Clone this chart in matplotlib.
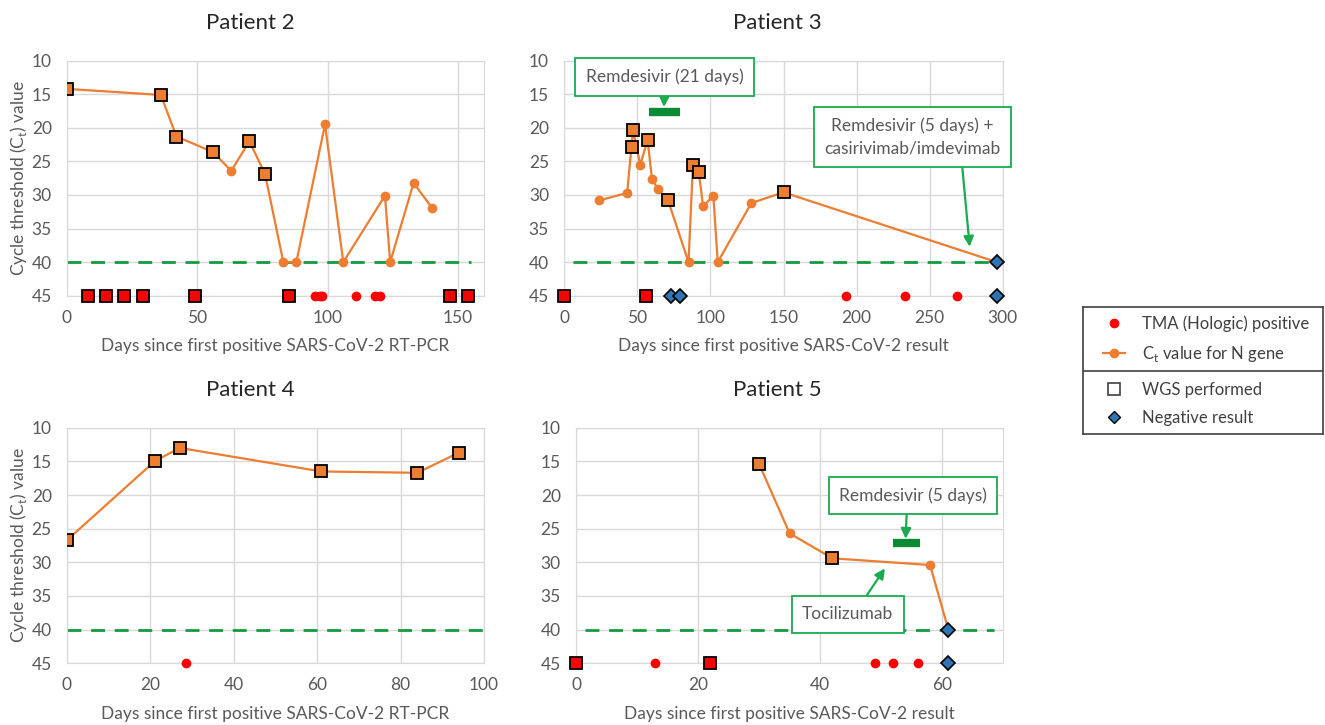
"""Ct value timelines for four patients, 2x2 panels plus a shared legend box."""

import matplotlib

matplotlib.use("Agg")
import matplotlib.pyplot as plt
from matplotlib.lines import Line2D

# ---------- Data ----------

# Patient 2
P2_DAYS = [0, 36, 42, 56, 63, 70, 76, 83, 88, 99, 106, 122, 124, 133, 140]
P2_CT = [14.2, 15.1, 21.3, 23.6, 26.4, 22.0, 26.9, 40, 40, 19.5, 40, 30.1, 40, 28.2, 31.9]
P2_MARK = ["s", "s", "s", "s", "o", "s", "s", "o", "o", "o", "o", "o", "o", "o", "o"]
P2_TMA_WGS = [8, 15, 22, 29, 49, 85, 147, 154]
P2_TMA = [95, 97, 98, 111, 118, 120]
P2_NEG = []

# Patient 3
P3_DAYS = [24, 43, 46, 47, 52, 57, 60, 64, 71, 85, 88, 92, 95, 102, 105, 128, 150, 296]
P3_CT = [30.8, 29.7, 22.8, 20.3, 25.5, 21.8, 27.6, 29.1, 30.8, 40, 25.6, 26.6, 31.7,
         30.1, 40, 31.2, 29.6, 40]
P3_MARK = ["o", "o", "s", "s", "o", "s", "o", "o", "s", "o", "s", "s", "o", "o", "o",
           "o", "s", "D"]
P3_TMA_WGS = [0, 56]
P3_TMA = [193, 233, 269]
P3_NEG = [73, 79, 296]

# Patient 4
P4_DAYS = [0, 21, 27, 61, 84, 94]
P4_CT = [26.7, 15.0, 13.0, 16.5, 16.7, 13.7]
P4_MARK = ["s", "s", "s", "s", "s", "s"]
P4_TMA_WGS = []
P4_TMA = [28.5]
P4_NEG = []

# Patient 5
P5_DAYS = [30, 35, 42, 58, 61]
P5_CT = [15.4, 25.7, 29.4, 30.4, 40]
P5_MARK = ["s", "o", "s", "o", "D"]
P5_TMA_WGS = [0, 22]
P5_TMA = [13, 49, 52, 56]
P5_NEG = [61]

X_MAX = [160, 300, 100, 70]
X_STEP = [50, 50, 20, 20]
CUTOFF_SPAN = [(0, 155), (6, 296), (0, 101), (1.5, 68.5)]
TITLES = ["Patient 2", "Patient 3", "Patient 4", "Patient 5"]
XLABELS = [
    "Days since first positive SARS-CoV-2 RT-PCR",
    "Days since first positive SARS-CoV-2 result",
    "Days since first positive SARS-CoV-2 RT-PCR",
    "Days since first positive SARS-CoV-2 result",
]

# Treatment bars: (start day, end day, Ct level)
P3_REMDESIVIR_21 = (58, 79, 17.6)
P5_REMDESIVIR_5 = (52, 56.3, 27.2)

# ---------- Style ----------

ORANGE = "#ED7D31"
RED = "#FF0000"
BLUE = "#2E75B6"
GREEN = "#139B3E"
BOX_GREEN = "#1AAB4F"
BAR_GREEN = "#0A8A35"
GRID = "#D9D9D9"
TXT = "#595959"

plt.rcParams.update({
    "font.family": ["Lato", "DejaVu Sans"],
    "font.size": 12,
    "axes.edgecolor": GRID,
    "xtick.color": TXT,
    "ytick.color": TXT,
})

W, H = 1325, 725
fig = plt.figure(figsize=(W / 100, H / 100), dpi=100)


def px_axes(left, top, right, bottom):
    return fig.add_axes([left / W, 1 - bottom / H, (right - left) / W, (bottom - top) / H])


axes = [
    px_axes(67, 60.7, 484, 295.7),
    px_axes(564.3, 60.7, 1002.7, 295.7),
    px_axes(67, 427.7, 484, 663.3),
    px_axes(576, 427.7, 1003.3, 663.3),
]
title_x = [0.44, 0.485, 0.44, 0.47]

patients = [
    (P2_DAYS, P2_CT, P2_MARK, P2_TMA_WGS, P2_TMA, P2_NEG),
    (P3_DAYS, P3_CT, P3_MARK, P3_TMA_WGS, P3_TMA, P3_NEG),
    (P4_DAYS, P4_CT, P4_MARK, P4_TMA_WGS, P4_TMA, P4_NEG),
    (P5_DAYS, P5_CT, P5_MARK, P5_TMA_WGS, P5_TMA, P5_NEG),
]

for i, (ax, (days, ct, marks, tma_wgs, tma, neg)) in enumerate(zip(axes, patients)):
    ax.set_xlim(0, X_MAX[i])
    ax.set_ylim(45, 10)
    ax.set_xticks(range(0, X_MAX[i] + 1, X_STEP[i]))
    ax.set_yticks(range(10, 46, 5))
    ax.grid(True, color=GRID, linewidth=1)
    ax.set_axisbelow(True)
    ax.tick_params(length=0, labelsize=12.5)
    ax.tick_params(axis="y", pad=11)
    ax.tick_params(axis="x", pad=10)

    ax.hlines(40, *CUTOFF_SPAN[i], colors=GREEN, linestyles=(0, (5, 3.5)), linewidth=2, zorder=2)

    ax.plot(days, ct, color=ORANGE, linewidth=1.6, zorder=3)
    for d, c, m in zip(days, ct, marks):
        if m == "o":
            ax.plot(d, c, "o", color=ORANGE, ms=6, zorder=4)
        elif m == "s":
            ax.plot(d, c, "s", mfc=ORANGE, mec="black", mew=1.3, ms=9, zorder=5)
        else:
            ax.plot(d, c, "D", mfc=BLUE, mec="black", mew=1.2, ms=7, zorder=5, clip_on=False)

    ax.plot(tma, [45] * len(tma), "o", color=RED, ms=6, zorder=4, clip_on=False)
    ax.plot(tma_wgs, [45] * len(tma_wgs), "s", mfc=RED, mec="black", mew=1.3, ms=9,
            zorder=5, clip_on=False)
    ax.plot(neg, [45] * len(neg), "D", mfc=BLUE, mec="black", mew=1.2, ms=7,
            zorder=5, clip_on=False)

    ax.set_title(TITLES[i], x=title_x[i], pad=23, fontsize=16, color="#262626")
    ax.set_xlabel(XLABELS[i], color=TXT, fontsize=12.5, labelpad=9)
    if i in (0, 2):
        ax.set_ylabel(r"Cycle threshold (C$_\mathregular{t}$) value", color=TXT, fontsize=12.5)
        ax.yaxis.set_label_coords(-0.092, 0.5)

box = dict(boxstyle="square,pad=0.6", fc="white", ec=BOX_GREEN, lw=1.3)
arrow = dict(arrowstyle="-|>", color=BOX_GREEN, lw=1.6, mutation_scale=15, shrinkA=0, shrinkB=0)

# Patient 3 treatments
ax = axes[1]
s, e, y = P3_REMDESIVIR_21
ax.hlines(y, s, e, colors=BAR_GREEN, linewidth=6, zorder=6)
ax.annotate("Remdesivir (21 days)", xy=(68.2, 16.9), xytext=(68.7, 12.4),
            ha="center", va="center", color=TXT, fontsize=12.5, bbox=box,
            arrowprops=dict(arrow, relpos=(0.5, 0)), annotation_clip=False, zorder=7)
ax.annotate("Remdesivir (5 days) +\ncasirivimab/imdevimab", xy=(277.4, 37.7),
            xytext=(238.4, 21.4), ha="center", va="center", color=TXT, fontsize=12.5,
            linespacing=1.5, bbox=box, arrowprops=dict(arrow, relpos=(0.776, 0)),
            annotation_clip=False, zorder=7)

# Patient 5 treatments
ax = axes[3]
s, e, y = P5_REMDESIVIR_5
ax.hlines(y, s, e, colors=BAR_GREEN, linewidth=6, zorder=6)
ax.annotate("Remdesivir (5 days)", xy=(54, 26.5), xytext=(55.2, 20.1),
            ha="center", va="center", color=TXT, fontsize=12.5, bbox=box,
            arrowprops=dict(arrow, relpos=(0.46, 0)), annotation_clip=False, zorder=7)
ax.annotate("Tocilizumab", xy=(50.6, 30.9), xytext=(44.5, 37.7),
            ha="center", va="center", color=TXT, fontsize=12.5, bbox=box,
            arrowprops=dict(arrow, relpos=(0.63, 1)), annotation_clip=False, zorder=7)

# ---------- Legend box ----------
lax = px_axes(1083, 307, 1323, 434)
lax.set_xticks([])
lax.set_yticks([])
for sp in lax.spines.values():
    sp.set_color("#404040")
    sp.set_linewidth(1.2)
lax.axhline(0.5, color="#404040", linewidth=1.2)

top_handles = [
    Line2D([], [], marker="o", color=RED, ls="none", ms=6),
    Line2D([], [], marker="o", color=ORANGE, lw=1.6, ms=6),
]
top_labels = ["TMA (Hologic) positive", r"C$_\mathregular{t}$ value for N gene"]
bot_handles = [
    Line2D([], [], marker="s", mfc="white", mec="#404040", mew=1.2, ls="none", ms=8),
    Line2D([], [], marker="D", mfc=BLUE, mec="black", mew=1.0, ls="none", ms=6),
]
bot_labels = ["WGS performed", "Negative result"]

common = dict(frameon=False, loc="center left", borderpad=0, borderaxespad=0,
              handlelength=1.35, handletextpad=1.0, labelspacing=0.7, fontsize=12,
              labelcolor="#404040")
leg1 = lax.legend(top_handles, top_labels, bbox_to_anchor=(0.083, 0.744), **common)
lax.add_artist(leg1)
lax.legend(bot_handles, bot_labels, bbox_to_anchor=(0.083, 0.236), **common)

fig.savefig("out.png", dpi=100, facecolor="white")
